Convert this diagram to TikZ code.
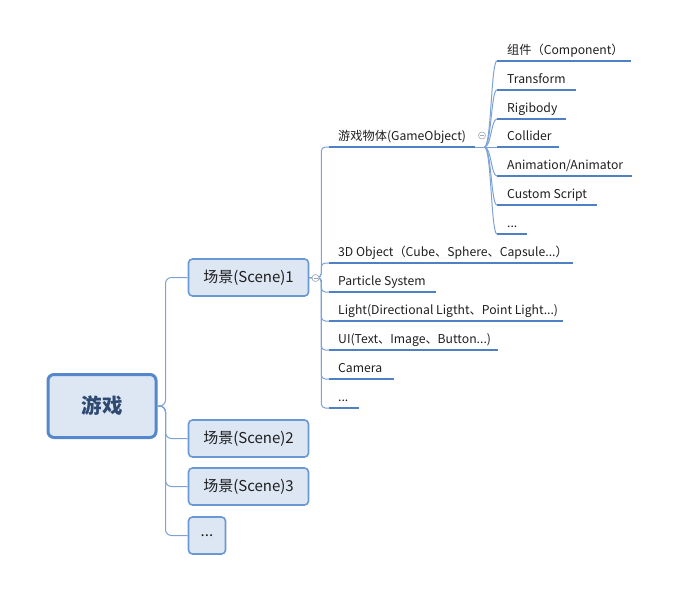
\documentclass[tikz,border=0pt]{standalone}
\usepackage{fontspec}
\setmainfont{Noto Sans CJK SC}
\definecolor{boxfill}{HTML}{DDE6F3}
\definecolor{boxline}{HTML}{6A98D4}
\definecolor{rootline}{HTML}{5487CC}
\definecolor{conncol}{HTML}{7DA2D6}
\definecolor{ulcol}{HTML}{4F80C4}
\definecolor{roottext}{HTML}{2F4A72}
\definecolor{itemtext}{HTML}{1E1E1E}
\definecolor{knobcol}{HTML}{9AA8B8}
\begin{document}
\begin{tikzpicture}[x=1pt,y=-1pt,
  rootbox/.style={draw=rootline,line width=3pt,fill=boxfill,rounded corners=6pt,
    minimum width=108pt,minimum height=63pt,inner sep=0pt,
    font=\fontsize{20.5}{24}\selectfont\bfseries,text=roottext},
  scenebox/.style={draw=boxline,line width=1.6pt,fill=boxfill,rounded corners=4pt,
    minimum width=120pt,minimum height=37pt,inner sep=0pt,
    font=\fontsize{15}{17}\selectfont,text=itemtext},
  lvtwo/.style={anchor=south west,inner xsep=9pt,inner ysep=4pt,text height=9pt,text depth=2.5pt,
    font=\fontsize{12.2}{14}\selectfont,text=itemtext},
  lvthree/.style={anchor=south west,inner xsep=10pt,inner ysep=4pt,text height=9pt,text depth=2.5pt,
    font=\fontsize{12.2}{14}\selectfont,text=itemtext},
  conn/.style={draw=conncol,line width=1pt},
  uline/.style={draw=ulcol,line width=2.6pt},
  knob/.style={circle,draw=knobcol,fill=white,line width=0.6pt,minimum size=7pt,inner sep=0pt}
]
\useasboundingbox (0,0) rectangle (696,590);

% root and scenes
\node[rootbox] (root) at (102,406) {游戏};
\node[scenebox] (s1) at (248.5,277.5) {场景(Scene)1};
\node[scenebox] (s2) at (248.5,438.5) {场景(Scene)2};
\node[scenebox] (s3) at (248.5,486.5) {场景(Scene)3};
\node[scenebox,minimum width=37pt] (s4) at (207,535.5) {...};

\foreach \s in {s1,s2,s3,s4}
  \draw[conn,rounded corners=6pt] (root.east) -- ++(8,0) |- (\s.west);

% level two
\node[lvtwo] (go) at (329,147) {\makebox[128pt][l]{游戏物体(GameObject)}};
\node[lvtwo] (obj) at (329,263) {\makebox[226pt][l]{3D Object（Cube、Sphere、Capsule...）}};
\node[lvtwo] (ps) at (329,292) {\makebox[89pt][l]{Particle System}};
\node[lvtwo] (light) at (329,321) {\makebox[216pt][l]{Light(Directional Ligtht、Point Light...)}};
\node[lvtwo] (ui) at (329,350) {\makebox[151pt][l]{UI(Text、Image、Button...)}};
\node[lvtwo] (cam) at (329,379) {\makebox[47pt][l]{Camera}};
\node[lvtwo] (more) at (329,408) {\makebox[12pt][l]{...}};

\foreach \n in {go,obj,ps,light,ui,cam,more}{
  \draw[conn,rounded corners=4pt] (s1.east) -- ++(12,0) |- (\n.south west);
  \draw[uline] (\n.south west) -- (\n.south east);
}

% level three
\node[lvthree] (comp) at (497,61) {\makebox[114pt][l]{组件（Component）}};
\node[lvthree] (tf) at (497,90) {\makebox[59pt][l]{Transform}};
\node[lvthree] (rb) at (497,119) {\makebox[49pt][l]{Rigibody}};
\node[lvthree] (col) at (497,147) {\makebox[42pt][l]{Collider}};
\node[lvthree] (anim) at (497,176) {\makebox[115pt][l]{Animation/Animator}};
\node[lvthree] (cs) at (497,205) {\makebox[80pt][l]{Custom Script}};
\node[lvthree] (gmore) at (497,234) {\makebox[10pt][l]{...}};

\coordinate (fork) at ([xshift=9pt]go.south east);
\draw[conn] (go.south east) -- (fork);
\foreach \n in {comp,tf,rb,col,anim,cs,gmore}{
  \draw[conn] (fork) .. controls ([xshift=7pt]fork) and ([xshift=-6pt]\n.south west) .. (\n.south west);
  \draw[uline] (\n.south west) -- (\n.south east);
}

% collapse knobs
\node[knob] (k1) at (315.5,278) {};
\draw[draw=knobcol,line width=0.6pt] ([xshift=-2pt]k1.center) -- ([xshift=2pt]k1.center);
\node[knob] (k2) at (482,135.5) {};
\draw[draw=knobcol,line width=0.6pt] ([xshift=-2pt]k2.center) -- ([xshift=2pt]k2.center);
\end{tikzpicture}
\end{document}
